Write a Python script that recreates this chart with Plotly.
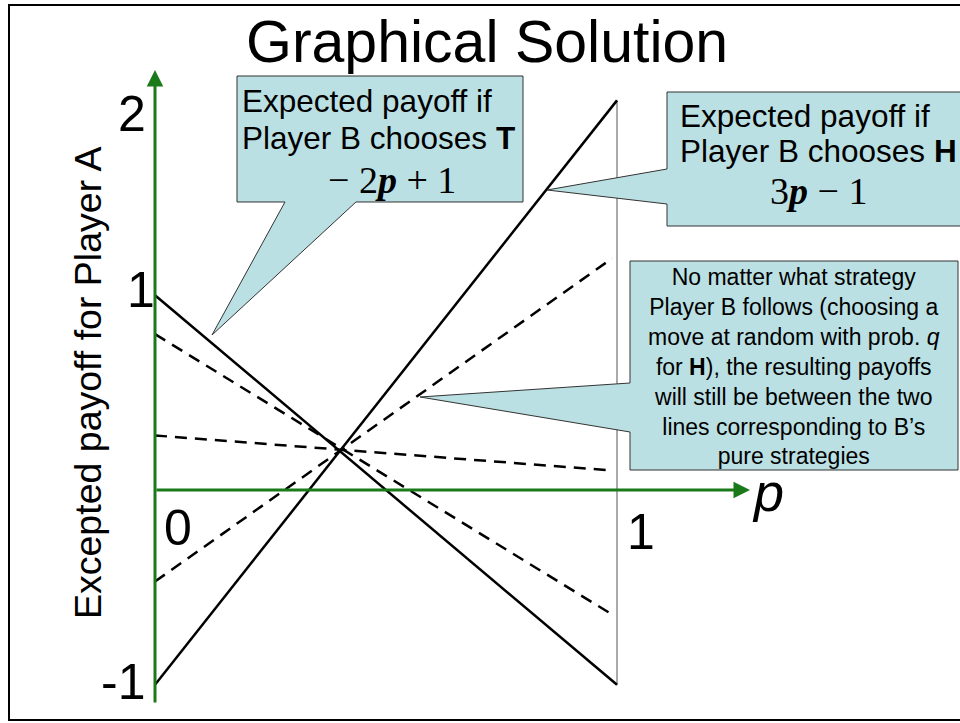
import plotly.graph_objects as go

# ---------------- data ----------------
p_ends = [0, 1]
payoff_T = [1, -1]          # -2p + 1
payoff_H = [-1, 2]          # 3p - 1
dash_p = [0, 0.99]
dash_a = [0.80, -0.64]
dash_b = [-0.47, 1.19]
dash_c = [0.28, 0.10]
y_tick_vals = [2, 1, -1]
y_tick_text = ["2", "1", "-1"]
x_tick_vals = [0, 1]
x_tick_text = ["0", "1"]

# ---------------- geometry (page pixels) ----------------
W, H = 960, 723
X0PX, XSCALE = 155, 462
Y0PX, YSCALE = 490, 194.8
x_range = [(0 - X0PX) / XSCALE, (W - X0PX) / XSCALE]
y_range = [(Y0PX - H) / YSCALE, Y0PX / YSCALE]


def dx(px):
    return (px - X0PX) / XSCALE


def dy(py):
    return (Y0PX - py) / YSCALE


def fx(px):
    return px / W


def fy(py):
    return 1 - py / H


GREEN = "#1a7a1a"
FILL = "#bbe0e3"
SANS = "Arial, Liberation Sans, Helvetica, sans-serif"
SERIF = "Times New Roman, Liberation Serif, serif"

fig = go.Figure()

# thin vertical line at p = 1
fig.add_trace(go.Scatter(x=[1, 1], y=[min(payoff_T), max(payoff_H)], mode="lines",
                         line=dict(color="#555555", width=1), hoverinfo="skip"))
# dashed mixed-strategy lines
for ys in (dash_a, dash_b, dash_c):
    fig.add_trace(go.Scatter(x=dash_p, y=ys, mode="lines",
                             line=dict(color="black", width=2.5, dash="12px,8px"),
                             hoverinfo="skip"))
# pure strategy lines
fig.add_trace(go.Scatter(x=p_ends, y=payoff_T, mode="lines",
                         line=dict(color="black", width=2.5), hoverinfo="skip"))
fig.add_trace(go.Scatter(x=p_ends, y=payoff_H, mode="lines",
                         line=dict(color="black", width=2.5), hoverinfo="skip"))

annotations = []
shapes = []

# green axes with arrows
annotations.append(dict(x=dx(750), y=0, ax=0, ay=0, xref="x", yref="y", axref="x", ayref="y",
                        text="", showarrow=True, arrowhead=2, arrowsize=1.1, arrowwidth=3,
                        arrowcolor=GREEN, standoff=0, startstandoff=0))
annotations.append(dict(x=0, y=dy(70), ax=0, ay=dy(704), xref="x", yref="y", axref="x", ayref="y",
                        text="", showarrow=True, arrowhead=2, arrowsize=1.1, arrowwidth=3,
                        arrowcolor=GREEN, standoff=0, startstandoff=0))

# tick labels
y_shifts = {"2": (-7, -14), "1": (2, 5), "-1": (-8, 3)}
for v, t in zip(y_tick_vals, y_tick_text):
    xs, ys = y_shifts[t]
    annotations.append(dict(x=0, y=v, xref="x", yref="y", text=t, showarrow=False,
                            xanchor="right", yanchor="middle", xshift=xs, yshift=ys,
                            font=dict(family=SANS, size=50, color="black")))
x_shifts = {"0": (23, -38), "1": (24, -42)}
for v, t in zip(x_tick_vals, x_tick_text):
    xs, ys = x_shifts[t]
    annotations.append(dict(x=v, y=0, xref="x", yref="y", text=t, showarrow=False,
                            xanchor="center", yanchor="middle", xshift=xs, yshift=ys,
                            font=dict(family=SANS, size=50, color="black")))
# axis names
annotations.append(dict(x=fx(768), y=fy(492), xref="paper", yref="paper", text="<i>p</i>",
                        showarrow=False, xanchor="center", yanchor="middle",
                        font=dict(family=SANS, size=54, color="black")))
annotations.append(dict(x=fx(88), y=fy(383), xref="paper", yref="paper",
                        text="Excepted payoff for Player A", textangle=-90, showarrow=False,
                        xanchor="center", yanchor="middle",
                        font=dict(family=SANS, size=37.5, color="black")))
# title
annotations.append(dict(x=fx(487), y=fy(42), xref="paper", yref="paper", text="Graphical Solution",
                        showarrow=False, xanchor="center", yanchor="middle",
                        font=dict(family=SANS, size=59, color="black")))


def path(points):
    return "M " + " L ".join(f"{fx(a):.5f},{fy(b):.5f}" for a, b in points) + " Z"


# callout 1 (T)
shapes.append(dict(type="path", xref="paper", yref="paper", layer="above",
                   path=path([(237, 76), (523, 76), (523, 202), (356, 202), (212, 335),
                              (285, 202), (237, 202)]),
                   fillcolor=FILL, line=dict(color="#333333", width=1)))
# callout 2 (H)
shapes.append(dict(type="path", xref="paper", yref="paper", layer="above",
                   path=path([(667, 92), (975, 92), (975, 226), (667, 226), (667, 204),
                              (547, 190), (667, 169)]),
                   fillcolor=FILL, line=dict(color="#333333", width=1)))
# callout 3
shapes.append(dict(type="path", xref="paper", yref="paper", layer="above",
                   path=path([(630, 261), (958, 261), (958, 470), (630, 470), (630, 432),
                              (420, 397), (630, 383)]),
                   fillcolor=FILL, line=dict(color="#333333", width=1)))
# slide border
shapes.append(dict(type="rect", xref="paper", yref="paper", layer="above",
                   x0=fx(9), x1=fx(975), y0=fy(720), y1=fy(5),
                   line=dict(color="black", width=2)))


def txt(x, y, t, size, anchor="left", family=SANS):
    annotations.append(dict(x=fx(x), y=fy(y), xref="paper", yref="paper", text=t,
                            showarrow=False, xanchor=anchor, yanchor="middle",
                            font=dict(family=family, size=size, color="black")))


txt(240, 101, "Expected payoff if", 31.5)
txt(240, 138, "Player B chooses <b>T</b>", 31.5)
txt(392, 180, "− 2<b><i>p</i></b> + 1", 38, anchor="center", family=SERIF)

txt(678, 116, "Expected payoff if", 31.5)
txt(678, 151, "Player B chooses <b>H</b>", 31.5)
txt(818, 191, "3<b><i>p</i></b> − 1", 38, anchor="center", family=SERIF)

lines3 = ["No matter what strategy",
          "Player B follows (choosing a",
          "move at random with prob. <i>q</i>",
          "for <b>H</b>), the resulting payoffs",
          "will still be between the two",
          "lines corresponding to B’s",
          "pure strategies"]
txt(794, 366, "<br>".join(lines3), 23, anchor="center")

fig.update_layout(
    width=W, height=H,
    margin=dict(l=0, r=0, t=0, b=0),
    paper_bgcolor="white", plot_bgcolor="white",
    showlegend=False,
    xaxis=dict(range=x_range, visible=False, fixedrange=True),
    yaxis=dict(range=y_range, visible=False, fixedrange=True),
    annotations=annotations,
    shapes=shapes,
)

fig.write_html("out.html", config={"displayModeBar": False},
               post_script="document.body.style.margin='0';document.body.style.overflow='hidden';")
